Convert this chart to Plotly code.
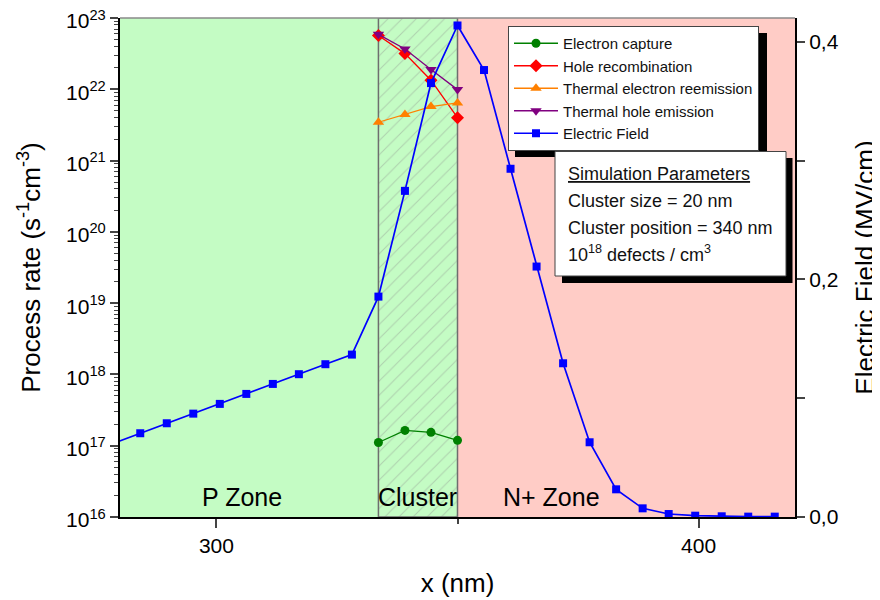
import plotly.graph_objects as go

# ---------------- data ----------------
x_nm = [278.7, 284.2, 289.7, 295.2, 300.7, 306.2, 311.7, 317.1, 322.6, 328.1,
        333.6, 339.1, 344.5, 350.0,
        355.5, 361.0, 366.4, 371.9, 377.4, 382.9, 388.4, 393.8, 399.3, 404.8, 410.3, 415.8]
field_mvcm = [0.0621, 0.0705, 0.0789, 0.0870, 0.0952, 0.1036, 0.1120, 0.1202, 0.1286, 0.1367,
              0.1855, 0.2745, 0.3652, 0.4137,
              0.3762, 0.2931, 0.2108, 0.1294, 0.0629, 0.0233, 0.0073, 0.0025, 0.0011, 0.0006, 0.0003, 0.0003]

x_cluster = [333.6, 339.1, 344.5, 350.0]
electron_capture = [1.11e17, 1.64e17, 1.54e17, 1.19e17]
hole_recombination = [5.7e22, 3.17e22, 1.34e22, 4.0e21]
thermal_electron_reemission = [3.45e21, 4.42e21, 5.73e21, 6.43e21]
thermal_hole_emission = [5.9e22, 3.68e22, 1.89e22, 9.9e21]

p_zone = [280.0, 333.6]
cluster_zone = [333.6, 350.0]
n_zone = [350.0, 420.0]
zone_labels = ["P Zone", "Cluster", "N+ Zone"]
zone_label_x = [305.2, 341.6, 369.5]

x_range = [280, 420]
rate_exponents = [16, 17, 18, 19, 20, 21, 22, 23]
rate_tick_text = ["10<sup>%d</sup>" % e for e in rate_exponents]
field_range = [0, 0.42]

param_lines = ["<u>Simulation Parameters</u>",
               "Cluster size = 20 nm",
               "Cluster position = 340 nm",
               "10<sup>18</sup> defects / cm<sup>3</sup>"]

# ---------------- figure ----------------
FONT = "Liberation Sans, Arial, sans-serif"
GREEN_BG = "#c4fcc4"
PINK_BG = "#ffccc6"

# plot area in page pixels (page has an 8px body margin)
PL, PR, PT, PB = 120, 795, 18, 517
PW, PH = PR - PL, PB - PT


def px(xp):
    return (xp - PL) / PW


def py(yp):
    return (PB - yp) / PH


fig = go.Figure()

ylo = 10.0 ** rate_exponents[0]
yhi = 10.0 ** rate_exponents[-1]
rate_tick_vals = [10.0 ** e for e in rate_exponents]

# hatched cluster region (on the log axis, drawn beneath the data)
fig.add_trace(go.Scatter(
    x=[cluster_zone[0], cluster_zone[1], cluster_zone[1], cluster_zone[0], cluster_zone[0]],
    y=[ylo, ylo, yhi, yhi, ylo],
    mode="lines", fill="toself",
    fillcolor=GREEN_BG,
    fillpattern=dict(shape="/", fgcolor="#98a698", bgcolor=GREEN_BG, size=10, solidity=0.1),
    line=dict(color="#6e6e6e", width=1.5),
    showlegend=False, hoverinfo="skip", yaxis="y"))

series = [
    ("Electron capture", electron_capture, "#008000", "circle", 9),
    ("Hole recombination", hole_recombination, "#ff0000", "diamond", 10),
    ("Thermal electron reemission", thermal_electron_reemission, "#ff8000", "triangle-up", 10),
    ("Thermal hole emission", thermal_hole_emission, "#800080", "triangle-down", 10),
]
for name, vals, col, sym, sz in series:
    fig.add_trace(go.Scatter(
        x=x_cluster, y=vals, name=name, mode="lines+markers",
        line=dict(color=col, width=1.3),
        marker=dict(symbol=sym, size=sz, color=col),
        yaxis="y"))

fig.add_trace(go.Scatter(
    x=x_nm, y=field_mvcm, name="Electric Field", mode="lines+markers",
    line=dict(color="#0000ff", width=1.7),
    marker=dict(symbol="square", size=8, color="#0000ff"),
    yaxis="y2"))

# legend box as rendered (used only to place its drop shadow)
LEG_L, LEG_T, LEG_W, LEG_H = 508, 26, 252, 124

shapes = [
    dict(type="rect", xref="x", yref="paper", x0=p_zone[0], x1=p_zone[1], y0=0, y1=1,
         fillcolor=GREEN_BG, line=dict(width=0), layer="below"),
    dict(type="rect", xref="x", yref="paper", x0=n_zone[0], x1=n_zone[1], y0=0, y1=1,
         fillcolor=PINK_BG, line=dict(width=0), layer="below"),
    # top frame line
    dict(type="line", xref="paper", yref="paper", x0=0, x1=1, y0=1, y1=1,
         line=dict(color="#8a8a8a", width=1.5), layer="above"),
    # legend shadow
    dict(type="rect", xref="paper", yref="paper",
         x0=px(LEG_L + 7), x1=px(LEG_L + LEG_W + 7),
         y0=py(LEG_T + LEG_H + 7), y1=py(LEG_T + 7),
         fillcolor="black", line=dict(width=0), layer="above"),
    # parameter box shadow
    dict(type="rect", xref="paper", yref="paper",
         x0=px(562), x1=px(792.5), y0=py(283), y1=py(158),
         fillcolor="black", line=dict(width=0), layer="above"),
    # parameter box
    dict(type="rect", xref="paper", yref="paper",
         x0=px(555), x1=px(786), y0=py(276), y1=py(151.5),
         fillcolor="white", line=dict(color="#444444", width=1), layer="above"),
]

annotations = []
for lab, xc in zip(zone_labels, zone_label_x):
    annotations.append(dict(text=lab, x=xc, xref="x", y=py(497), yref="paper",
                            showarrow=False, xanchor="center", yanchor="middle",
                            font=dict(size=25, color="black", family=FONT)))
param_y = [173.5, 200.5, 227.5, 253.5]
for txt, yy in zip(param_lines, param_y):
    annotations.append(dict(text=txt, x=px(566), xref="paper",
                            y=py(yy), yref="paper",
                            showarrow=False, xanchor="left", yanchor="middle",
                            font=dict(size=18, color="#111111", family=FONT)))

minor_log = [m * 10.0 ** e for e in rate_exponents[:-1] for m in range(2, 10)]

fig.update_layout(
    width=872, height=592,
    margin=dict(l=PL - 8, r=872 - (PR - 8), t=PT - 8, b=592 - (PB - 8)),
    paper_bgcolor="white", plot_bgcolor="white",
    font=dict(family=FONT, color="black", size=21),
    separators=",.",
    showlegend=True,
    legend=dict(x=px(LEG_L), y=py(LEG_T), xanchor="left", yanchor="top",
                bgcolor="white", bordercolor="#444444", borderwidth=1,
                font=dict(size=15, family=FONT, color="#111111"),
                itemwidth=44, tracegroupgap=0),
    xaxis=dict(range=x_range, dtick=100, tick0=0, ticks="outside", ticklen=9, tickwidth=1.5,
               showline=True, linecolor="black", linewidth=2, showgrid=False, zeroline=False,
               minor=dict(dtick=50, tick0=0, ticks="outside", ticklen=5, tickwidth=1.5, showgrid=False),
               tickfont=dict(size=21), automargin=False,
               title=dict(text="x (nm)", font=dict(size=26), standoff=18)),
    yaxis=dict(type="log", range=[rate_exponents[0], rate_exponents[-1] + 0.0003],
               tickmode="array", tickvals=rate_tick_vals, ticktext=rate_tick_text,
               ticks="outside", ticklen=8, tickwidth=1.5, ticklabeloverflow="allow",
               ticklabelshift=3,
               showline=True, linecolor="black", linewidth=2, showgrid=False, zeroline=False,
               minor=dict(tickvals=minor_log, ticks="outside", ticklen=4, tickwidth=1, showgrid=False),
               tickfont=dict(size=21), automargin=False,
               title=dict(text="Process rate (s<sup>-1</sup>cm<sup>-3</sup>)", font=dict(size=26), standoff=18)),
    yaxis2=dict(overlaying="y", side="right", range=field_range, dtick=0.2, tick0=0,
                tickformat=".1f", ticks="outside", ticklen=8, tickwidth=1.5, ticklabeloverflow="allow",
                showline=True, linecolor="black", linewidth=2, showgrid=False, zeroline=False,
                minor=dict(dtick=0.1, tick0=0, ticks="outside", ticklen=8, tickwidth=1.5, showgrid=False),
                tickfont=dict(size=21), automargin=False,
                title=dict(text="Electric Field (MV/cm)", font=dict(size=26), standoff=21)),
    shapes=shapes,
    annotations=annotations,
)

fig.write_html("out.html")
